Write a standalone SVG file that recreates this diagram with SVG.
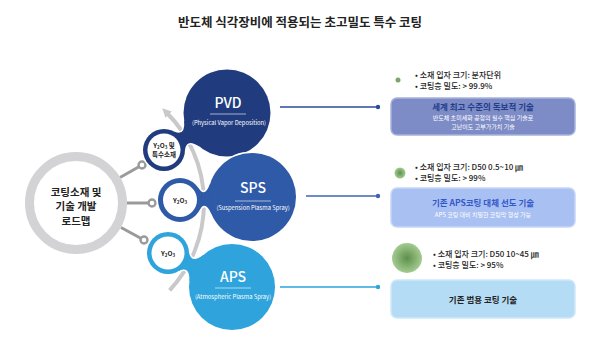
<svg xmlns="http://www.w3.org/2000/svg" width="600" height="352" viewBox="0 0 600 352">
<defs>
<style>
text{font-family:"Noto Sans CJK KR","Noto Sans",sans-serif;}
.title{font-size:12.5px;font-weight:700;fill:#222;}
.hub{font-size:10.5px;font-weight:700;fill:#222;}
.big{font-size:14px;font-weight:500;fill:#fff;}
.sub{font-size:5.8px;fill:#fff;}
.mat{font-size:6.5px;font-weight:700;fill:#222;}
.bul{font-size:8px;font-weight:500;fill:#222;}
.bt{font-size:8.5px;font-weight:700;}
.bs{font-size:6px;fill:#fff;}
.halo{fill:#fff;stroke:#fff;stroke-width:3;}
.stub{stroke:#9a9a9a;stroke-width:3;}
.term{fill:#fff;stroke:#9a9a9a;stroke-width:2.4;}
.uline{stroke:#fff;stroke-opacity:0.6;stroke-width:1;}
</style>
<marker id="ah" markerUnits="userSpaceOnUse" markerWidth="10" markerHeight="10" refX="3" refY="4.5" orient="auto">
<path d="M0,0 L9,4.5 L0,9 z" fill="#c9c9cb"/>
</marker>
<radialGradient id="gdot"><stop offset="0" stop-color="#5e8e4c"/><stop offset="1" stop-color="#a3cc90"/></radialGradient>
</defs>
<rect width="600" height="352" fill="#fff"/>
<text class="title" x="300" y="27" text-anchor="middle">반도체 식각장비에 적용되는 초고밀도 특수 코팅</text>

<g id="connectors">
<path d="M169.6,290.3 A128,128 0 0 0 166.5,112.5" fill="none" stroke="#c9c9cb" stroke-width="4" marker-end="url(#ah)"/>
<line class="stub" x1="120" y1="177.5" x2="142" y2="165"/>
<line class="stub" x1="127" y1="203" x2="152" y2="203"/>
<line class="stub" x1="121" y1="227.5" x2="144" y2="240"/>
<circle class="term" cx="142" cy="165" r="3.5"/>
<circle class="term" cx="152" cy="203" r="3.5"/>
<circle class="term" cx="144" cy="240" r="3.5"/>
<line x1="280" y1="107" x2="378" y2="107" stroke="#2c4a9a" stroke-width="1.3"/>
<circle cx="378" cy="107" r="2.2" fill="#2c4a9a"/>
<line x1="306" y1="196" x2="378" y2="196" stroke="#3d63b8" stroke-width="1.3"/>
<circle cx="378" cy="196" r="2.2" fill="#3d63b8"/>
<line x1="280" y1="287" x2="378" y2="287" stroke="#2aa6de" stroke-width="1.3"/>
<circle cx="378" cy="287" r="2.2" fill="#2aa6de"/>
</g>

<g id="hub">
<circle cx="76" cy="203" r="46.5" fill="none" stroke="#d3d3d5" stroke-width="9"/>
<text class="hub" x="76" y="195.5" text-anchor="middle">코팅소재 및</text>
<text class="hub" x="76" y="210" text-anchor="middle">기술 개발</text>
<text class="hub" x="76" y="224.5" text-anchor="middle">로드맵</text>
</g>

<g id="node-pvd">
<g class="halo">
<path transform="translate(164,150) rotate(-30.4)" d="M18.2,10.5 Q25.5,1 32.1,14.9 L73,0 L32.1,-14.9 Q25.5,-1 18.2,-10.5 L0,0Z"/>
<circle cx="227" cy="113" r="43.5"/><circle cx="164" cy="150" r="21"/>
</g>
<g fill="#203c7e">
<path transform="translate(164,150) rotate(-30.4)" d="M18.2,10.5 Q25.5,1 32.1,14.9 L73,0 L32.1,-14.9 Q25.5,-1 18.2,-10.5 L0,0Z"/>
<circle cx="227" cy="113" r="43.5"/><circle cx="164" cy="150" r="21"/>
</g>
<circle cx="164" cy="150" r="16.5" fill="#fff"/>
<text class="big" x="228" y="108" text-anchor="middle">PVD</text>
<line class="uline" x1="210" y1="114" x2="246" y2="114"/>
<text class="sub" x="229" y="125" text-anchor="middle">(Physical Vapor Deposition)</text>
<text class="mat" x="164" y="148" text-anchor="middle">Y<tspan font-size="4.5" dy="1.2">2</tspan><tspan dy="-1.2">O</tspan><tspan font-size="4.5" dy="1.2">3</tspan><tspan dy="-1.2"> 및</tspan></text>
<text class="mat" x="164" y="157" text-anchor="middle">특수소재</text>
</g>

<g id="node-sps">
<g class="halo">
<path transform="translate(180,200) rotate(-2.4)" d="M19.05,11 Q25,1 30.7,15 L72,0 L30.7,-15 Q25,-1 19.05,-11 L0,0Z"/>
<circle cx="252" cy="197" r="44"/><circle cx="180" cy="200" r="22"/>
</g>
<g fill="#2e5aa7">
<path transform="translate(180,200) rotate(-2.4)" d="M19.05,11 Q25,1 30.7,15 L72,0 L30.7,-15 Q25,-1 19.05,-11 L0,0Z"/>
<circle cx="252" cy="197" r="44"/><circle cx="180" cy="200" r="22"/>
</g>
<circle cx="180" cy="200" r="17" fill="#fff"/>
<text class="big" x="253" y="193" text-anchor="middle">SPS</text>
<line class="uline" x1="235" y1="201" x2="271" y2="201"/>
<text class="sub" x="253" y="210" text-anchor="middle">(Suspension Plasma Spray)</text>
<text class="mat" x="180" y="203" text-anchor="middle" font-size="7">Y<tspan font-size="4.5" dy="1.2">2</tspan><tspan dy="-1.2">O</tspan><tspan font-size="4.5" dy="1.2">3</tspan></text>
</g>

<g id="node-aps">
<g class="halo">
<path transform="translate(168,253) rotate(28)" d="M18.2,10.5 Q25.5,1 32.1,14.7 L72.5,0 L32.1,-14.7 Q25.5,-1 18.2,-10.5 L0,0Z"/>
<circle cx="232" cy="287" r="43"/><circle cx="168" cy="253" r="21"/>
</g>
<g fill="#2ea3dc">
<path transform="translate(168,253) rotate(28)" d="M18.2,10.5 Q25.5,1 32.1,14.7 L72.5,0 L32.1,-14.7 Q25.5,-1 18.2,-10.5 L0,0Z"/>
<circle cx="232" cy="287" r="43"/><circle cx="168" cy="253" r="21"/>
</g>
<circle cx="168" cy="253" r="16.5" fill="#fff"/>
<text class="big" x="233" y="282" text-anchor="middle">APS</text>
<line class="uline" x1="215" y1="288" x2="251" y2="288"/>
<text class="sub" x="233" y="299" text-anchor="middle">(Atmospheric Plasma Spray)</text>
<text class="mat" x="168" y="256" text-anchor="middle" font-size="7">Y<tspan font-size="4.5" dy="1.2">2</tspan><tspan dy="-1.2">O</tspan><tspan font-size="4.5" dy="1.2">3</tspan></text>
</g>

<g id="panel-pvd">
<circle cx="398" cy="80" r="2.5" fill="#7aa66a"/>
<text class="bul" x="415" y="78">• 소재 입자 크기: 분자단위</text>
<text class="bul" x="415" y="89">• 코팅층 밀도: &gt; 99.9%</text>
<rect x="391" y="98" width="184" height="37" rx="6" fill="#7d8cc6" stroke="#a8b3dc" stroke-width="1.5"/>
<text class="bt" x="483" y="110" text-anchor="middle" fill="#233d8a">세계 최고 수준의 독보적 기술</text>
<text class="bs" x="483" y="120" text-anchor="middle">반도체 초미세화 공정의 필수 핵심 기술로</text>
<text class="bs" x="483" y="129" text-anchor="middle">고난이도 고부가가치 기술</text>
</g>

<g id="panel-sps">
<circle cx="400" cy="173" r="5.5" fill="url(#gdot)"/>
<text class="bul" x="415" y="170">• 소재 입자 크기: D50 0.5~10 ㎛</text>
<text class="bul" x="415" y="181">• 코팅층 밀도: &gt; 99%</text>
<rect x="391" y="188" width="184" height="39" rx="6" fill="#a9c0f2" stroke="#c6d5f7" stroke-width="1.5"/>
<text class="bt" x="483" y="206" text-anchor="middle" fill="#3358c8">기존 APS코팅 대체 선도 기술</text>
<text class="bs" x="483" y="217" text-anchor="middle">APS 코팅 대비 치밀한 코팅막 형성 가능</text>
</g>

<g id="panel-aps">
<circle cx="407" cy="258" r="15" fill="url(#gdot)"/>
<text class="bul" x="433" y="257">• 소재 입자 크기: D50 10~45 ㎛</text>
<text class="bul" x="433" y="268">• 코팅층 밀도: &gt; 95%</text>
<rect x="391" y="280" width="184" height="38" rx="6" fill="#b5dcf5" stroke="#d0e8fa" stroke-width="1.5"/>
<text class="bt" x="483" y="303" text-anchor="middle" fill="#222">기존 범용 코팅 기술</text>
</g>
</svg>
